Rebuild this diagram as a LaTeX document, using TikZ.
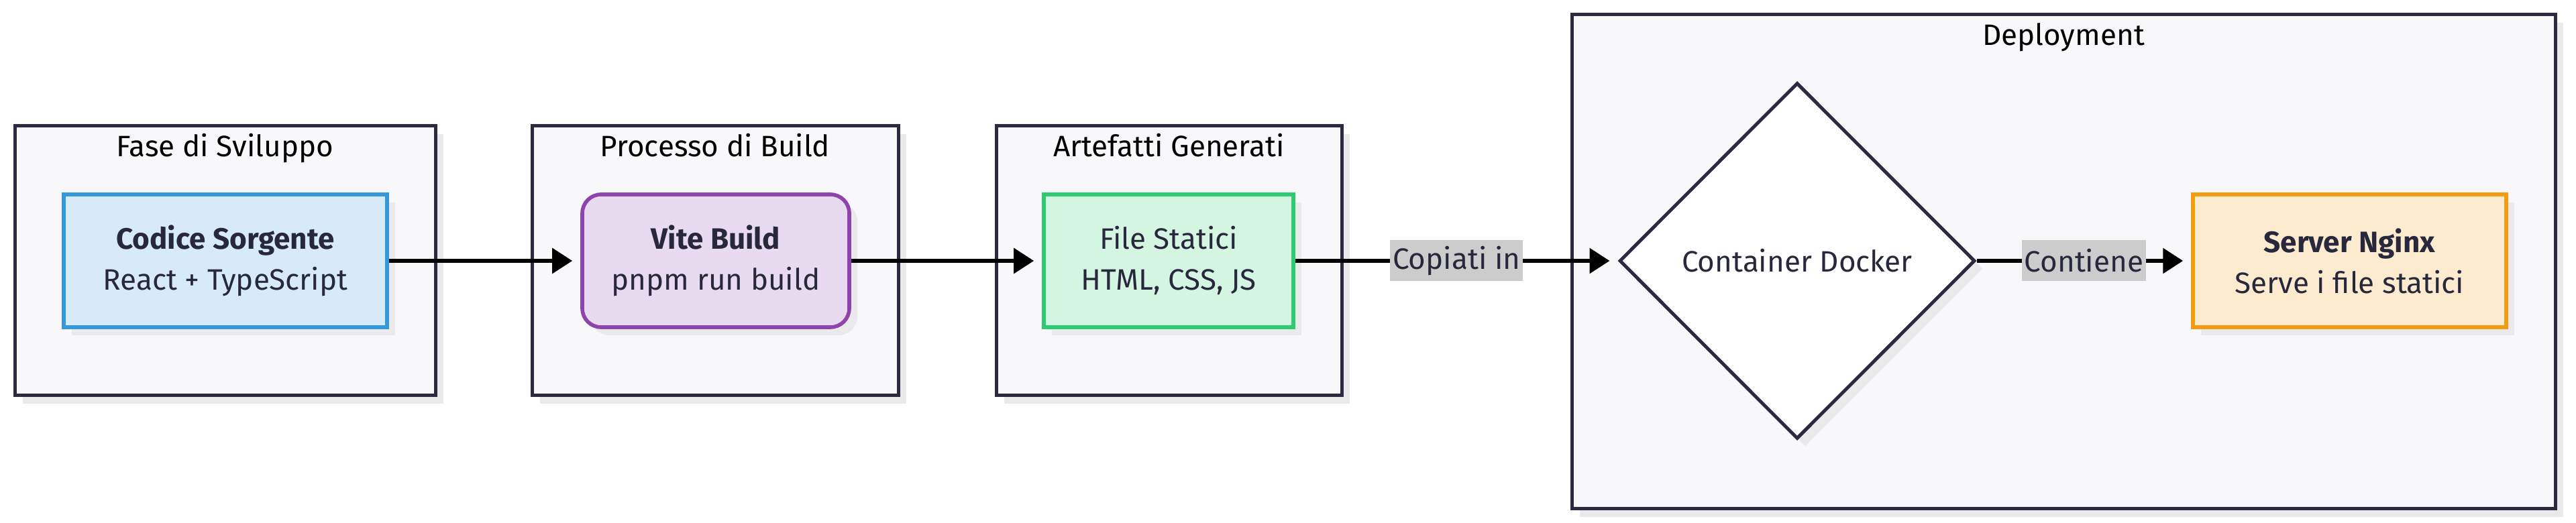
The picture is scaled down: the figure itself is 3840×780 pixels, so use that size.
\documentclass[tikz,border=0pt]{standalone}
\usepackage{fontspec}
\setmainfont{Fira Sans}
\usepackage{xcolor}
\usetikzlibrary{shapes.geometric,arrows.meta,shadows}
\definecolor{clusterfill}{HTML}{F8F8FA}
\definecolor{clusterline}{HTML}{2B2A3F}
\definecolor{shadowgray}{HTML}{EAEAEC}
\definecolor{inktext}{HTML}{28283C}
\definecolor{labelgray}{HTML}{CCCCCC}
\definecolor{srcfill}{HTML}{D6EAF8}
\definecolor{srcline}{HTML}{3498DB}
\definecolor{vitefill}{HTML}{E8DAEF}
\definecolor{viteline}{HTML}{8E44AD}
\definecolor{filesfill}{HTML}{D5F5E3}
\definecolor{filesline}{HTML}{2ECC71}
\definecolor{nginxfill}{HTML}{FDEBD0}
\definecolor{nginxline}{HTML}{F39C12}

\begin{document}
\begin{tikzpicture}[
    x=0.25pt, y=0.25pt,
    font=\fontsize{11}{15.25}\selectfont,
    flat shadow/.style={drop shadow={shadow xshift=3pt, shadow yshift=-3pt, fill=shadowgray, opacity=1}},
    cluster/.style={rectangle, draw=clusterline, fill=clusterfill, line width=1.25pt, minimum height=100.5pt, flat shadow},
    title/.style={anchor=base, text=black},
    box/.style={rectangle, line width=1.4pt, minimum height=49.5pt, align=center, text=inktext, flat shadow},
    arrow/.style={-{Triangle[length=7.5pt, width=9.25pt]}, line width=1.5pt, shorten >=3pt},
    edgelabel/.style={fill=labelgray, text=inktext, inner xsep=1pt, inner ysep=0pt, minimum height=15.25pt}
]
    \useasboundingbox (0,0) rectangle (3840,780);

    % Subgraph frames
    \node[cluster, minimum width=156.75pt] (dev) at (335.5,391) {};
    \node[cluster, minimum width=136.5pt] (build) at (1066,391) {};
    \node[cluster, minimum width=128.75pt] (art) at (1742.5,391) {};
    \node[cluster, minimum width=366.5pt, minimum height=184.25pt] (deploy) at (3076,389.5) {};

    % Subgraph titles
    \node[title] (devtitle) at (335.5,546) {Fase di Sviluppo};
    \node[title] (buildtitle) at (1066,546) {Processo di Build};
    \node[title] (arttitle) at (1742.5,546) {Artefatti Generati};
    \node[title] (deploytitle) at (3076,712) {Deployment};

    % Nodes
    \node[box, fill=srcfill, draw=srcline, minimum width=120.5pt] (src) at (336,391) {\textbf{Codice Sorgente}\\React + TypeScript};
    \node[box, fill=vitefill, draw=viteline, minimum width=99.5pt, rounded corners=7pt] (vite) at (1067,391) {\textbf{Vite Build}\\pnpm run build};
    \node[box, fill=filesfill, draw=filesline, minimum width=93pt] (files) at (1742,391) {File Statici\\HTML, CSS, JS};
    \node[diamond, aspect=1, draw=clusterline, fill=white, line width=1.25pt, text=inktext, inner sep=0pt, minimum width=132.5pt, minimum height=132.75pt, flat shadow] (docker) at (2679,391) {Container Docker};
    \node[box, fill=nginxfill, draw=nginxline, minimum width=116.75pt] (nginx) at (3502.5,391) {\textbf{Server Nginx}\\Serve i file statici};

    % Connectors
    \draw[arrow] (src) -- (vite);
    \draw[arrow] (vite) -- (files);
    \draw[arrow] (files) -- node[edgelabel] {Copiati in} (docker);
    \draw[arrow] (docker) -- node[edgelabel] {Contiene} (nginx);
\end{tikzpicture}
\end{document}
